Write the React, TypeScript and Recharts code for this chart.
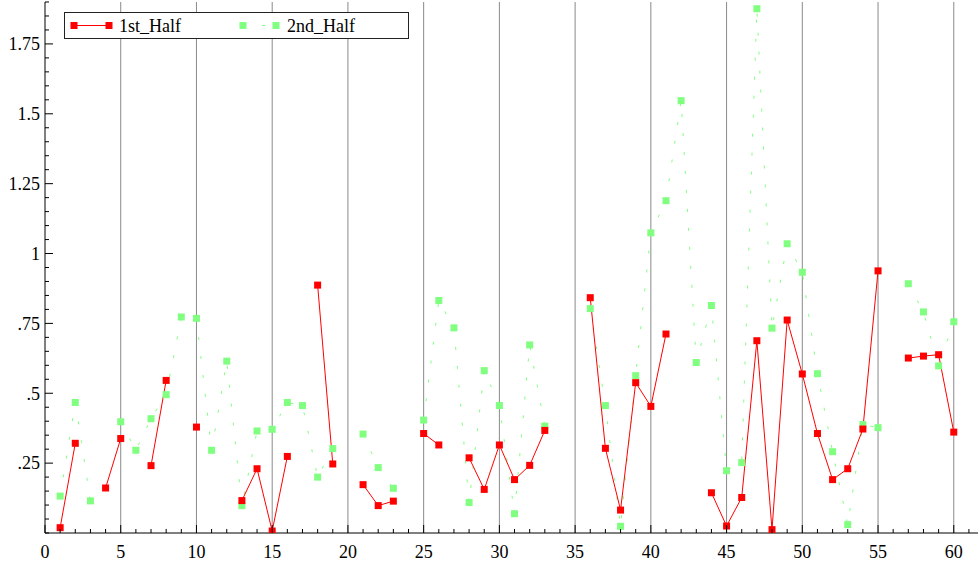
import React from 'react'
import { LineChart, Line, XAxis, YAxis, ReferenceLine } from 'recharts'

// series names, in legend order
const SERIES_NAMES = ['1st_Half', '2nd_Half']

// x positions 1..60
const X_VALUES = [
  1, 2, 3, 4, 5, 6, 7, 8, 9, 10, 11, 12, 13, 14, 15, 16, 17, 18, 19, 20,
  21, 22, 23, 24, 25, 26, 27, 28, 29, 30, 31, 32, 33, 34, 35, 36, 37, 38, 39, 40,
  41, 42, 43, 44, 45, 46, 47, 48, 49, 50, 51, 52, 53, 54, 55, 56, 57, 58, 59, 60,
]

// 1st_Half values (null = gap)
const FIRST_HALF = [
  0.019, 0.321, null, 0.161, 0.338, null, 0.241, 0.546, null, 0.379,
  null, null, 0.116, 0.23, 0.007, 0.274, null, 0.887, 0.247, null,
  0.173, 0.098, 0.114, null, 0.356, 0.315, null, 0.269, 0.156, 0.315,
  0.191, 0.242, 0.367, null, null, 0.842, 0.303, 0.082, 0.538, 0.453,
  0.712, null, null, 0.144, 0.025, 0.127, 0.688, 0.012, 0.762, 0.569,
  0.356, 0.191, 0.23, 0.372, 0.938, null, 0.626, 0.633, 0.638, 0.361,
]

// 2nd_Half values (null = gap)
const SECOND_HALF = [
  0.132, 0.467, 0.115, null, 0.398, 0.296, 0.409, 0.495, 0.773, 0.768,
  0.296, 0.615, 0.098, 0.365, 0.371, 0.467, 0.456, 0.2, 0.302, null,
  0.354, 0.234, 0.16, null, 0.404, 0.832, 0.734, 0.109, 0.581, 0.456,
  0.069, 0.673, 0.382, null, null, 0.803, 0.456, 0.024, 0.563, 1.074,
  1.189, 1.547, 0.61, 0.814, 0.223, 0.252, 1.876, 0.733, 1.035, 0.933,
  0.57, 0.291, 0.03, 0.388, 0.377, null, 0.892, 0.791, 0.598, 0.756,
]

// axis ticks
const X_MAJOR_TICKS = [0, 5, 10, 15, 20, 25, 30, 35, 40, 45, 50, 55, 60]
const X_TICK_LABELS = ['0', '5', '10', '15', '20', '25', '30', '35', '40', '45', '50', '55', '60']
const Y_MAJOR_TICKS = [0.25, 0.5, 0.75, 1, 1.25, 1.5, 1.75]
const Y_TICK_LABELS = ['.25', '.5', '.75', '1', '1.25', '1.5', '1.75']
const GRID_LINES = [5, 10, 15, 20, 25, 30, 35, 40, 45, 50, 55, 60]

const RED = '#ff0000'
const GREEN = '#80ff80'
const FONT = '"Liberation Serif", "Times New Roman", serif'

const chartData = X_VALUES.map((x, i) => ({
  x,
  first: FIRST_HALF[i],
  second: SECOND_HALF[i],
}))

// minor ticks: every 1 on x, every 0.05 on y
const xTicks: number[] = []
for (let i = 0; i <= 61; i++) xTicks.push(i)
const yTicks: number[] = []
for (let i = 0; i <= 38; i++) yTicks.push(Math.round(i * 5) / 100)

const XTick = (props: any) => {
  const { x, y, payload } = props
  const idx = X_MAJOR_TICKS.indexOf(payload.value)
  const major = idx >= 0
  return (
    <g>
      <line x1={x} x2={x} y1={y} y2={y - (major ? 8 : 4)} stroke="#000" />
      {major && (
        <text x={x} y={y + 25} textAnchor="middle" fontSize={18} fontFamily={FONT} fill="#000">
          {X_TICK_LABELS[idx]}
        </text>
      )}
    </g>
  )
}

const YTick = (props: any) => {
  const { x, y, payload } = props
  const idx = Y_MAJOR_TICKS.findIndex(t => Math.abs(t - payload.value) < 1e-6)
  const major = idx >= 0
  return (
    <g>
      <line x1={x} x2={x + (major ? 8 : 4)} y1={y} y2={y} stroke="#000" />
      {major && (
        <text x={x - 5} y={y} dy="0.35em" textAnchor="end" fontSize={18} fontFamily={FONT} fill="#000">
          {Y_TICK_LABELS[idx]}
        </text>
      )}
    </g>
  )
}

const square = (color: string) => (props: any) => {
  const { cx, cy, index } = props
  if (cx == null || cy == null) return <g key={`d-${index}`} />
  return <rect key={`d-${index}`} x={cx - 3.5} y={cy - 3.5} width={7} height={7} fill={color} />
}

function LegendBox() {
  return (
    <svg width={346} height={28} style={{ position: 'absolute', left: 64, top: 12 }}>
      <rect x={0.5} y={0.5} width={344} height={26} fill="#fff" stroke="#222" />
      {/* 1st_Half */}
      <line x1={10} x2={45} y1={13.5} y2={13.5} stroke={RED} />
      <rect x={6.5} y={10} width={7} height={7} fill={RED} />
      <rect x={41.5} y={10} width={7} height={7} fill={RED} />
      <text x={55} y={19.5} fontSize={18} fontFamily={FONT} fill="#000">{SERIES_NAMES[0]}</text>
      {/* 2nd_Half */}
      <line x1={179} x2={212} y1={13.5} y2={13.5} stroke={GREEN} strokeDasharray="3 16" />
      <rect x={175.5} y={10} width={7} height={7} fill={GREEN} />
      <rect x={208.5} y={10} width={7} height={7} fill={GREEN} />
      <text x={223} y={19.5} fontSize={18} fontFamily={FONT} fill="#000">{SERIES_NAMES[1]}</text>
    </svg>
  )
}

export default function App() {
  return (
    <div style={{ position: 'absolute', left: 0, top: 0, width: 978, height: 564, background: '#fff' }}>
      <LineChart
        width={978}
        height={564}
        data={chartData}
        margin={{ top: 2, right: 0, bottom: 0, left: 0 }}
      >
        <XAxis
          type="number"
          dataKey="x"
          domain={[0, 61.6]}
          ticks={xTicks}
          interval={0}
          height={31}
          tickLine={false}
          tickSize={0}
          tickMargin={0}
          tick={<XTick />}
          axisLine={{ stroke: '#000' }}
          allowDataOverflow
        />
        <YAxis
          type="number"
          domain={[0, 1.9]}
          ticks={yTicks}
          interval={0}
          width={45}
          tickLine={false}
          tickSize={0}
          tickMargin={0}
          tick={<YTick />}
          axisLine={{ stroke: '#000' }}
          allowDataOverflow
        />

        {/* vertical grid every 5 */}
        {GRID_LINES.map(g => (
          <ReferenceLine key={g} x={g} stroke="#8a8a8a" strokeWidth={1} />
        ))}

        <Line
          dataKey="second"
          name={SERIES_NAMES[1]}
          stroke={GREEN}
          strokeWidth={1}
          strokeDasharray="3 16"
          dot={square(GREEN)}
          activeDot={false}
          isAnimationActive={false}
        />
        <Line
          dataKey="first"
          name={SERIES_NAMES[0]}
          stroke={RED}
          strokeWidth={1}
          dot={square(RED)}
          activeDot={false}
          isAnimationActive={false}
        />
      </LineChart>
      <LegendBox />
    </div>
  )
}
